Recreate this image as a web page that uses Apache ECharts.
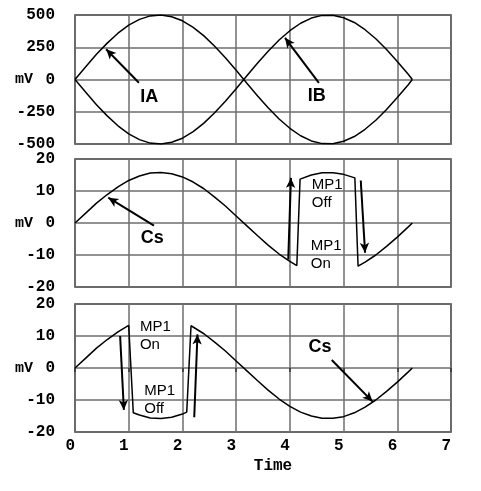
<!DOCTYPE html>
<html><head><meta charset="utf-8">
<script src="https://cdn.jsdelivr.net/npm/echarts/dist/echarts.min.js"></script>
<style>html,body{margin:0;padding:0;background:#fff}#c{width:481px;height:491px}</style>
</head><body><div id="c"></div>
<script>
// ---- data ----
const xMin = 0, xMax = 7;
const topRange = [-500, 500, 250];
const lowRange = [-20, 20, 10];

const iaX = [0,0.2,0.4,0.6,0.8,1.0,1.2,1.4,1.6,1.8,2.0,2.2,2.4,2.6,2.8,3.0,3.2,3.4,3.6,3.8,4.0,4.2,4.4,4.6,4.8,5.0,5.2,5.4,5.6,5.8,6.0,6.2,6.28];
const iaY = [0,99,195,282,359,421,466,493,500,487,455,404,338,258,168,71,-29,-128,-221,-306,-378,-436,-476,-497,-498,-479,-442,-386,-316,-232,-140,-42,0];
const ibY = [0,-99,-195,-282,-359,-421,-466,-493,-500,-487,-455,-404,-338,-258,-168,-71,29,128,221,306,378,436,476,497,498,479,442,386,316,232,140,42,0];

const csMidX = [0,0.2,0.4,0.6,0.8,1.0,1.2,1.4,1.6,1.8,2.0,2.2,2.4,2.6,2.8,3.0,3.2,3.4,3.6,3.8,4.0,4.13,4.19,4.4,4.6,4.8,5.0,5.21,5.27,5.4,5.6,5.8,6.0,6.2,6.28];
const csMidY = [0,3.1,6.2,8.9,11.3,13.3,14.7,15.6,15.8,15.4,14.4,12.8,10.7,8.1,5.3,2.2,-0.9,-4.0,-7.0,-9.7,-12.0,-13.3,13.7,15.0,15.7,15.7,15.2,14.1,-13.5,-12.2,-10.0,-7.3,-4.4,-1.3,0];

const csBotX = [0,0.2,0.4,0.6,0.8,1.0,1.01,1.085,1.2,1.4,1.6,1.8,2.0,2.08,2.16,2.4,2.6,2.8,3.0,3.2,3.4,3.6,3.8,4.0,4.2,4.4,4.6,4.8,5.0,5.2,5.4,5.6,5.8,6.0,6.2,6.28];
const csBotY = [0,3.1,6.2,8.9,11.3,13.3,13.4,-14.0,-14.7,-15.6,-15.8,-15.4,-14.4,-13.8,13.2,10.7,8.1,5.3,2.2,-0.9,-4.0,-7.0,-9.7,-12.0,-13.8,-15.0,-15.7,-15.7,-15.2,-14.0,-12.2,-10.0,-7.3,-4.4,-1.3,0];

// annotations: [text, x, y, anchor]
const topLabels = [['IA',1.38,-138,'c'],['IB',4.5,-130,'c']];
const topArrows = [[1.19,-25,0.58,235],[4.54,-26,3.91,323]];
const midLabels = [['Cs',1.44,-4.8,'c'],['MP1\nOff',4.40,9.0,'l'],['MP1\nOn',4.38,-9.8,'l']];
const midArrows = [[1.47,-0.8,0.62,7.9],[3.97,-11.4,4.02,14.1],[5.32,13.3,5.40,-9.3]];
const botLabels = [['Cs',4.56,6.7,'c'],['MP1\nOn',1.20,9.9,'l'],['MP1\nOff',1.28,-9.9,'l']];
const botArrows = [[4.78,2.5,5.54,-10.5],[0.84,10,0.91,-13.1],[2.22,-15.4,2.28,10.5]];

// ---- chart ----
const monoBold = {fontFamily:'Liberation Mono', fontWeight:'bold', fontSize:16, color:'#000'};
const grids = [
  {left:75, right:30, top:15, height:129},
  {left:75, right:30, top:159, height:128},
  {left:75, right:30, top:304, height:128}
];
grids.forEach(g=>{g.show=true; g.borderColor='#333'; g.borderWidth=1.5; g.containLabel=false; g.outerBoundsMode='none';});

function xAx(i, last){
  return {
    type:'value', gridIndex:i, min:xMin, max:xMax, interval:1,
    axisLine:{show:false},
    axisTick:{show:last, length:4, lineStyle:{color:'#333', width:1.5}},
    axisLabel:last ? Object.assign({show:true, margin:6, align:'right'}, monoBold) : {show:false},
    splitLine:{show:true, lineStyle:{color:'#6e6e6e', width:1.5}},
    name: last ? 'Time' : '', nameLocation:'middle', nameGap:26, nameMoveOverlap:false,
    nameTextStyle: Object.assign({}, monoBold, {padding:[0,0,0,20]})
  };
}
function yAx(i, r){
  return {
    type:'value', gridIndex:i, min:r[0], max:r[1], interval:r[2],
    axisLine:{show:false}, axisTick:{show:false},
    axisLabel:Object.assign({margin:20}, monoBold),
    splitLine:{show:true, lineStyle:{color:'#6e6e6e', width:1.5}},
    name:'mV', nameLocation:'middle', nameRotate:0, nameGap:42, nameMoveOverlap:false,
    nameTextStyle:Object.assign({}, monoBold, {align:'right', fontSize:15})
  };
}
function pairs(xs, ys){ return xs.map((x,i)=>[x, ys[i]]); }
function arrows(list){
  return {
    silent:true, symbol:['none','arrow'], symbolSize:[7,10], animation:false,
    label:{show:false},
    lineStyle:{color:'#000', width:2, type:'solid'},
    emphasis:{disabled:true},
    data:list.map(a=>[{coord:[a[0],a[1]]},{coord:[a[2],a[3]]}])
  };
}
function labels(list){
  return {
    silent:true, animation:false,
    data:list.map(l=>{
      const bold = l[3]==='c';
      return {
        coord:[l[1],l[2]], symbol:'circle', symbolSize:1,
        itemStyle:{color:'rgba(0,0,0,0)'},
        label:{show:true, formatter:l[0],
          position: bold ? 'inside' : 'right', distance:0,
          fontFamily:'Liberation Sans', fontSize: bold?18:15, fontWeight: bold?'bold':'normal',
          color:'#000', lineHeight:18, align: bold?'center':'left'}
      };
    })
  };
}
function line(name, xi, data, extra){
  return Object.assign({
    name, type:'line', xAxisIndex:xi, yAxisIndex:xi, data,
    showSymbol:false, symbol:'none', smooth:false, animation:false,
    lineStyle:{color:'#000', width:1.5}, silent:true
  }, extra||{});
}

const chart = echarts.init(document.getElementById('c'), null, {renderer:'canvas'});
chart.setOption({
  backgroundColor:'#fff',
  animation:false,
  grid:grids,
  xAxis:[xAx(0,false), xAx(1,false), xAx(2,true)],
  yAxis:[yAx(0,topRange), yAx(1,lowRange), yAx(2,lowRange)],
  series:[
    line('IA',0,pairs(iaX,iaY),{markLine:arrows(topArrows), markPoint:labels(topLabels)}),
    line('IB',0,pairs(iaX,ibY)),
    line('Cs',1,pairs(csMidX,csMidY),{markLine:arrows(midArrows), markPoint:labels(midLabels)}),
    line('Cs ',2,pairs(csBotX,csBotY),{markLine:arrows(botArrows), markPoint:labels(botLabels)})
  ]
});
</script></body></html>
